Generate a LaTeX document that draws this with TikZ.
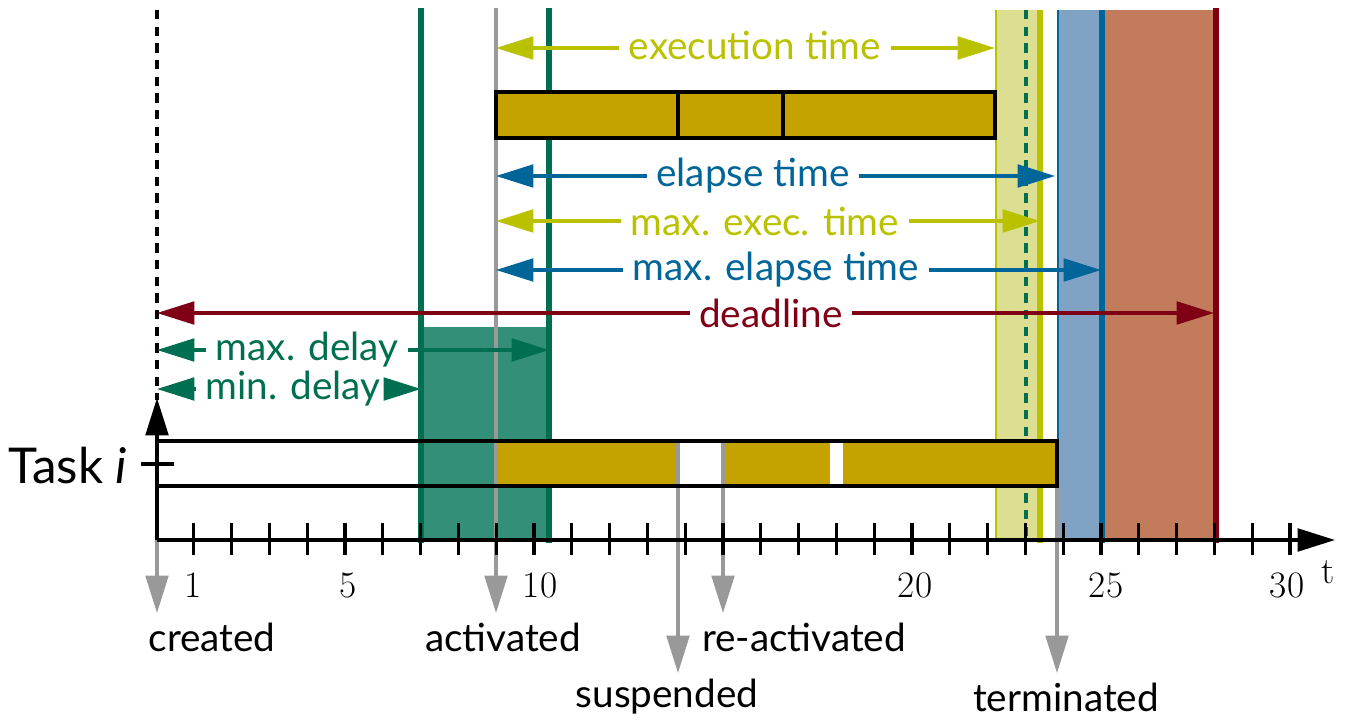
\documentclass[tikz,border=0pt]{standalone}
\usepackage{fontspec}
\setmainfont{Lato}
\usetikzlibrary{arrows.meta}
\definecolor{gold}{HTML}{C4A300}
\definecolor{grn}{HTML}{006E50}
\definecolor{grnfill}{HTML}{338F78}
\definecolor{ylw}{HTML}{BAC200}
\definecolor{ylwfill}{HTML}{DCDE92}
\definecolor{blu}{HTML}{006699}
\definecolor{blufill}{HTML}{80A3C5}
\definecolor{rd}{HTML}{7F0015}
\definecolor{rdfill}{HTML}{C27C5C}
\definecolor{gry}{HTML}{999999}
\newcommand\lblfont{\fontsize{29}{31}\selectfont}
\newcommand\numfont{\fontfamily{lmr}\fontsize{28}{30}\selectfont}
\tikzset{
  arrowtip/.style={-{Triangle[length=28pt,width=17pt]}},
  dimline/.style={arrowtip, line width=2.3pt},
  dimtext/.style={font=\lblfont, inner xsep=7pt, inner ysep=2pt, anchor=center},
  vbar/.style={line width=3.8pt},
  thinbar/.style={line width=1.6pt},
  dashedline/.style={line width=2.6pt, dash pattern=on 7pt off 5.5pt},
  grayarrow/.style={gry, line width=2.3pt, arrowtip},
  axisline/.style={black, line width=2.4pt},
  ticktick/.style={black, line width=2.3pt},
  evlabel/.style={font=\lblfont, anchor=center},
  numlabel/.style={font=\numfont, anchor=center}
}
\begin{document}
\begin{tikzpicture}[x=0.75pt,y=-0.75pt]
\useasboundingbox (0,0) rectangle (1352,720);
% bands
\fill[ylwfill] (995,10) rectangle (1042,541);
\draw[ylw, thinbar] (996,10) -- (996,541);
\draw[ylw, vbar] (1040,10) -- (1040,543);
\draw[grn, dashedline] (1026,10) -- (1026,540);
\fill[blufill] (1057,10) rectangle (1102,541);
\draw[blu, thinbar] (1058,10) -- (1058,541);
\fill[rdfill] (1102,10) rectangle (1216,541);
\draw[blu, vbar] (1102,10) -- (1102,543);
\draw[rd, vbar] (1216,8) -- (1216,543);
% green delay region
\fill[grnfill] (421,327) rectangle (549,540);
\draw[grn, vbar] (421,8) -- (421,543);
\draw[grn, vbar] (549,8) -- (549,543);
% created dashed line
\draw[black, dashedline] (157,10) -- (157,400);
% gold segments of task row
\fill[gold] (496,441) rectangle (678,486);
\fill[gold] (723,441) rectangle (830,486);
\fill[gold] (843,441) rectangle (1057,486);
% gray event lines
\coordinate (cr0) at (157,540);
\coordinate (cr1) at (157,613);
\coordinate (ac0) at (496,8);
\coordinate (ac1) at (496,613);
\coordinate (su0) at (678,441);
\coordinate (su1) at (678,673);
\coordinate (re0) at (723,441);
\coordinate (re1) at (723,613);
\coordinate (te0) at (1057,441);
\coordinate (te1) at (1057,673);
\draw[grayarrow] (ac0) -- (ac1);
\draw[grayarrow] (su0) -- (su1);
\draw[grayarrow] (re0) -- (re1);
\draw[grayarrow] (te0) -- (te1);
\draw[grayarrow] (cr0) -- (cr1);
% task row outline
\draw[black, line width=2.3pt] (157,441) rectangle (1057,486);
% top execution bar
\draw[fill=gold, draw=black, line width=2.3pt] (496,92) rectangle (995,138);
\draw[black, line width=2.3pt] (678,92) -- (678,138);
\draw[black, line width=2.3pt] (783,92) -- (783,138);
% axes
\coordinate (org) at (157,540);
\coordinate (xend) at (1335,540);
\coordinate (yend) at (157,398);
\draw[axisline, arrowtip] (org) -- (xend);
\draw[axisline, arrowtip] (org) -- (yend);
\foreach \t in {1,...,30} {
  \draw[ticktick] ({156+37.8*\t},523) -- ({156+37.8*\t},555);
}
\draw[ticktick] (141,464) -- (174,464);
\node[font=\fontsize{37}{39}\selectfont, anchor=east] (task) at (132,466) {Task \textit{i}};
% numbers
\node[numlabel] (n1) at (193,585) {1};
\node[numlabel] (n5) at (348,585) {5};
\node[numlabel] (n10) at (540,585) {10};
\node[numlabel] (n20) at (915,585) {20};
\node[numlabel] (n25) at (1106,585) {25};
\node[numlabel] (n30) at (1287,585) {30};
\node[numlabel] (tl) at (1328,572) {t};
% event labels
\node[evlabel] (created) at (212,637) {created};
\node[evlabel] (activated) at (503,637) {activated};
\node[evlabel] (reactivated) at (804,637) {re-activated};
\node[evlabel] (suspended) at (667,697) {suspended};
\node[evlabel] (terminated) at (1066,697) {terminated};
% dimension arrows
\node[dimtext, text=ylw] (ex) at (755,45) {execution time};
\coordinate (exL) at (496,48); \coordinate (exR) at (995,48);
\draw[dimline, ylw] (ex.west |- exL) -- (exL);
\draw[dimline, ylw] (ex.east |- exR) -- (exR);
\node[dimtext, text=blu] (el) at (753,176) {elapse time};
\coordinate (elL) at (496,176); \coordinate (elR) at (1055,176);
\draw[dimline, blu] (el.west |- elL) -- (elL);
\draw[dimline, blu] (el.east |- elR) -- (elR);
\node[dimtext, text=ylw] (mx) at (765,221) {max. exec. time};
\coordinate (mxL) at (496,221); \coordinate (mxR) at (1040,221);
\draw[dimline, ylw] (mx.west |- mxL) -- (mxL);
\draw[dimline, ylw] (mx.east |- mxR) -- (mxR);
\node[dimtext, text=blu] (me) at (776,270) {max. elapse time};
\coordinate (meL) at (496,270); \coordinate (meR) at (1101,270);
\draw[dimline, blu] (me.west |- meL) -- (meL);
\draw[dimline, blu] (me.east |- meR) -- (meR);
\node[dimtext, text=rd] (dl) at (771,313) {deadline};
\coordinate (dlL) at (157,313); \coordinate (dlR) at (1214,313);
\draw[dimline, rd] (dl.west |- dlL) -- (dlL);
\draw[dimline, rd] (dl.east |- dlR) -- (dlR);
\node[dimtext, text=grn] (md) at (307,350) {max. delay};
\coordinate (mdL) at (157,350); \coordinate (mdR) at (549,350);
\draw[dimline, grn] (md.west |- mdL) -- (mdL);
\draw[dimline, grn] (md.east |- mdR) -- (mdR);
\node[dimtext, text=grn] (nd) at (293,389) {min. delay};
\coordinate (ndL) at (157,389); \coordinate (ndR) at (421,389);
\draw[dimline, grn] (nd.west |- ndL) -- (ndL);
\draw[dimline, grn] (nd.east |- ndR) -- (ndR);
\end{tikzpicture}
\end{document}
